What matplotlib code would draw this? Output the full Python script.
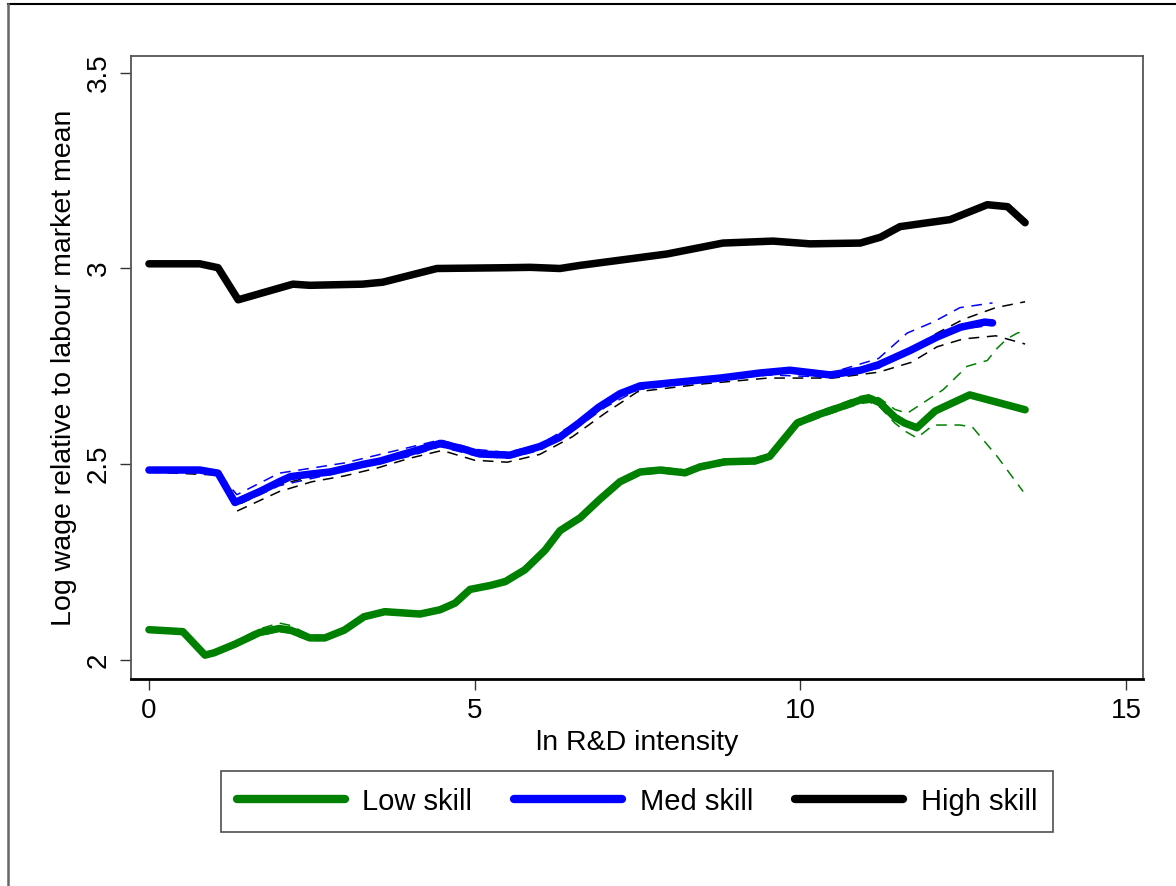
import matplotlib
matplotlib.use("Agg")
import matplotlib.pyplot as plt
from matplotlib.lines import Line2D

plt.rcParams['font.family'] = ['Liberation Sans', 'DejaVu Sans']

# ---- data ----
low_x = [0, 0.52, 0.86, 1.0, 1.32, 1.7, 2.0, 2.17, 2.47, 2.7, 3.0, 3.3, 3.62, 4.16, 4.47, 4.7, 4.93,
         5.24, 5.47, 5.77, 6.08, 6.31, 6.62, 6.92, 7.23, 7.54, 7.85, 8.23, 8.46, 8.84, 9.3, 9.53,
         9.95, 10.3, 10.6, 10.92, 11.07, 11.22, 11.45, 11.6, 11.79, 12.07, 12.6, 13.45]
low_y = [2.077, 2.072, 2.012, 2.018, 2.04, 2.07, 2.08, 2.076, 2.056, 2.056, 2.076, 2.11, 2.123, 2.117,
         2.128, 2.145, 2.18, 2.19, 2.2, 2.23, 2.28, 2.33, 2.363, 2.41, 2.455, 2.48, 2.485, 2.478,
         2.493, 2.506, 2.508, 2.52, 2.605, 2.628, 2.645, 2.664, 2.668, 2.657, 2.62, 2.605, 2.593,
         2.636, 2.677, 2.639]

low_up_x = [0, 0.52, 0.86, 1.0, 1.32, 1.7, 2.0, 2.17, 2.47, 2.7, 3.0, 3.3, 3.62, 4.16, 4.47, 4.7,
            4.93, 5.24, 5.47, 5.77, 6.08, 6.31, 6.62, 6.92, 7.23, 7.54, 7.85, 8.23, 8.46, 8.84, 9.3,
            9.53, 9.95, 10.3, 10.6, 10.92, 11.07, 11.22, 11.45, 11.64, 12.19, 12.56, 12.87, 13.02,
            13.17, 13.33, 13.45]
low_up_y = [2.082, 2.077, 2.018, 2.024, 2.047, 2.079, 2.094, 2.088, 2.063, 2.062, 2.082, 2.116,
            2.129, 2.123, 2.134, 2.151, 2.186, 2.196, 2.207, 2.237, 2.287, 2.337, 2.37, 2.417, 2.462,
            2.487, 2.492, 2.485, 2.5, 2.513, 2.515, 2.528, 2.613, 2.636, 2.653, 2.673, 2.678, 2.668,
            2.64, 2.63, 2.69, 2.75, 2.765, 2.796, 2.82, 2.835, 2.84]
low_lo_x = [0, 0.52, 0.86, 1.0, 1.32, 1.7, 2.0, 2.17, 2.47, 2.7, 3.0, 3.3, 3.62, 4.16, 4.47, 4.7,
            4.93, 5.24, 5.47, 5.77, 6.08, 6.31, 6.62, 6.92, 7.23, 7.54, 7.85, 8.23, 8.46, 8.84, 9.3,
            9.53, 9.95, 10.3, 10.6, 10.92, 11.07, 11.22, 11.45, 11.6, 11.79, 12.04, 12.45, 12.64,
            13.02, 13.42]
low_lo_y = [2.072, 2.067, 2.006, 2.012, 2.033, 2.063, 2.072, 2.068, 2.049, 2.05, 2.07, 2.104,
            2.117, 2.111, 2.122, 2.139, 2.174, 2.184, 2.193, 2.223, 2.273, 2.323, 2.356, 2.403,
            2.448, 2.473, 2.478, 2.471, 2.486, 2.499, 2.501, 2.512, 2.597, 2.62, 2.637, 2.655,
            2.658, 2.646, 2.605, 2.585, 2.567, 2.6, 2.6, 2.595, 2.52, 2.43]

med_x = [0, 0.78, 1.06, 1.32, 1.7, 2.0, 2.17, 2.5, 2.78, 3.3, 3.55, 4.0, 4.47, 4.8, 5.08, 5.54,
         6.0, 6.3, 6.6, 6.9, 7.23, 7.54, 8.15, 8.77, 9.38, 9.84, 10.46, 10.92, 11.2, 11.68, 12.1,
         12.46, 12.83, 12.95]
med_y = [2.485, 2.485, 2.477, 2.402, 2.43, 2.455, 2.468, 2.475, 2.48, 2.5, 2.508, 2.53, 2.553,
         2.54, 2.526, 2.523, 2.545, 2.568, 2.605, 2.645, 2.68, 2.7, 2.71, 2.72, 2.733, 2.74, 2.728,
         2.74, 2.754, 2.79, 2.825, 2.85, 2.863, 2.861]

med_band_x = [0, 1.06, 1.35, 2.0, 3.0, 4.0, 4.47, 5.0, 5.5, 6.0, 6.5, 7.0, 7.5, 8.5, 9.5, 10.5,
              11.2, 11.64, 12.05, 12.45, 12.95]
med_upper = [2.487, 2.479, 2.422, 2.477, 2.503, 2.543, 2.562, 2.538, 2.53, 2.55, 2.6, 2.665, 2.705,
             2.72, 2.74, 2.735, 2.77, 2.835, 2.864, 2.9, 2.912]
med_lower = [2.483, 2.475, 2.395, 2.445, 2.482, 2.52, 2.545, 2.522, 2.515, 2.535, 2.585, 2.645,
             2.69, 2.712, 2.728, 2.722, 2.745, 2.785, 2.82, 2.845, 2.855]

hi_band_x = [0, 1.06, 1.35, 2.0, 2.5, 3.0, 3.5, 4.0, 4.5, 5.0, 5.5, 6.0, 6.5, 7.0, 7.5, 8.5, 9.5,
             10.5, 11.2, 11.7, 12.1, 12.5, 13.0, 13.45]
hi_upper = [2.485, 2.477, 2.395, 2.448, 2.468, 2.485, 2.5, 2.525, 2.548, 2.532, 2.52, 2.54, 2.59,
            2.655, 2.697, 2.715, 2.735, 2.73, 2.755, 2.795, 2.835, 2.87, 2.9, 2.915]
hi_lower = [2.48, 2.472, 2.38, 2.43, 2.455, 2.47, 2.49, 2.515, 2.535, 2.51, 2.505, 2.525, 2.57,
            2.63, 2.685, 2.705, 2.72, 2.72, 2.735, 2.76, 2.8, 2.82, 2.828, 2.807]

high_x = [0, 0.78, 1.06, 1.37, 2.21, 2.47, 3.28, 3.59, 4.42, 5.5, 5.85, 6.31, 6.62, 7.95, 8.81,
          9.58, 10.15, 10.92, 11.23, 11.53, 12.3, 12.87, 13.18, 13.45]
high_y = [3.012, 3.012, 3.002, 2.92, 2.96, 2.957, 2.96, 2.965, 3.0, 3.002, 3.003, 3.0, 3.008, 3.037,
          3.065, 3.07, 3.063, 3.065, 3.08, 3.107, 3.125, 3.163, 3.158, 3.117]

labels = ["Low skill", "Med skill", "High skill"]
xticks = [0, 5, 10, 15]
yticks = [2, 2.5, 3, 3.5]
ytick_labels = ["2", "2.5", "3", "3.5"]

GREEN = "#008000"
BLUE = "#0000ff"
BLACK = "#000000"

fig = plt.figure(figsize=(11.76, 8.86), dpi=100)
ax = fig.add_axes([131 / 1176, 1 - 679 / 886, (1143 - 131) / 1176, (679 - 56) / 886])

dash = dict(lw=1.1, dashes=(7, 5))
ax.plot(low_up_x, low_up_y, color=GREEN, **dash)
ax.plot(low_lo_x, low_lo_y, color=GREEN, **dash)
ax.plot(med_band_x, med_upper, color=BLUE, **dash)
ax.plot(med_band_x, med_lower, color=BLUE, **dash)
ax.plot(hi_band_x, hi_upper, color=BLACK, **dash)
ax.plot(hi_band_x, hi_lower, color=BLACK, **dash)

lw_main = 5.4
l1, = ax.plot(low_x, low_y, color=GREEN, lw=lw_main, solid_capstyle='round', solid_joinstyle='round')
l2, = ax.plot(med_x, med_y, color=BLUE, lw=lw_main, solid_capstyle='round', solid_joinstyle='round')
l3, = ax.plot(high_x, high_y, color=BLACK, lw=lw_main, solid_capstyle='round', solid_joinstyle='round')

ax.set_xlim(-0.276, 15.26)
ax.set_ylim(1.951, 3.543)
ax.set_xticks(xticks)
ax.set_xticklabels([str(t) for t in xticks])
ax.set_yticks(yticks)
ax.set_yticklabels(ytick_labels, rotation=90, va='center')
ax.tick_params(axis='both', length=8, width=1, color='#333333', labelsize=20, pad=6)
ax.tick_params(axis='y', pad=6)

for s in ['top', 'right', 'left']:
    ax.spines[s].set_color('#555555')
    ax.spines[s].set_linewidth(1.3)
ax.spines['bottom'].set_color('#000000')
ax.spines['bottom'].set_linewidth(2)

ax.set_xlabel("ln R&D intensity", fontsize=20.5, labelpad=4)
ax.set_ylabel("Log wage relative to labour market mean", fontsize=20.5, labelpad=6)

leg = fig.legend([l1, l2, l3], labels, loc='center', bbox_to_anchor=(637 / 1176, 1 - 801.5 / 886),
                 ncol=3, fontsize=21, frameon=True, fancybox=False, edgecolor='#222222',
                 handlelength=3.7, handletextpad=0.6, columnspacing=1.45, borderpad=0.55,
                 borderaxespad=0)
leg.get_frame().set_linewidth(1.2)
for h in leg.legend_handles:
    h.set_linewidth(6)
    h.set_solid_capstyle('round')

# outer frame
fig.add_artist(Line2D([8 / 1176, 1], [1 - 4 / 886, 1 - 4 / 886], transform=fig.transFigure,
                      color='black', lw=1.5))
fig.add_artist(Line2D([8 / 1176, 8 / 1176], [0, 1 - 4 / 886], transform=fig.transFigure,
                      color='#666666', lw=1.8))

fig.savefig("out.png", dpi=100)
